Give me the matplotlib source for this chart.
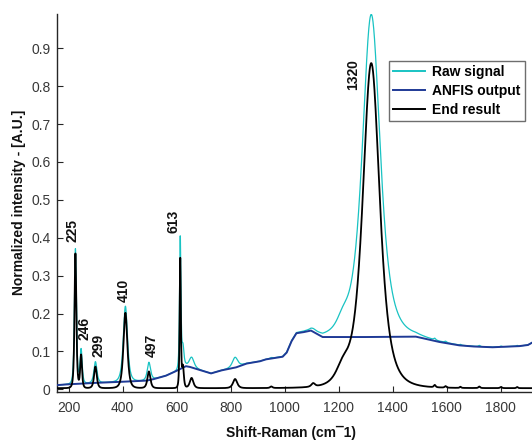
import numpy as np
import matplotlib
matplotlib.use("Agg")
import matplotlib.pyplot as plt

plt.rcParams['font.family'] = ['Liberation Sans', 'DejaVu Sans']

# ---- data -------------------------------------------------------------
# ANFIS baseline estimate (Raman shift in cm^-1, normalized intensity)
anfis_shift = [156, 193, 300, 400, 489, 515, 560, 594, 634, 649, 690, 727,
               766, 820, 859, 908, 930, 992, 1007, 1025, 1043, 1070, 1097,
               1140, 1300, 1485, 1572, 1646, 1700, 1769, 1868, 1900, 1915]
anfis_value = [0.011, 0.013, 0.017, 0.020, 0.023, 0.027, 0.036, 0.047, 0.061,
               0.059, 0.050, 0.042, 0.050, 0.058, 0.068, 0.074, 0.079, 0.086,
               0.097, 0.127, 0.148, 0.151, 0.155, 0.138, 0.138, 0.139, 0.125,
               0.116, 0.113, 0.111, 0.114, 0.117, 0.123]

# labelled Raman bands (cm^-1)
band_shift = [225, 246, 299, 410, 497, 613, 1320]
raw_band_height = [0.356, 0.090, 0.056, 0.199, 0.047, 0.345, 0.851]
raw_band_width = [6.5, 7, 10, 14, 11, 4.5, 60]
end_band_height = [0.355, 0.087, 0.057, 0.199, 0.044, 0.340, 0.857]
end_band_width = [6, 6, 9, 13, 10, 4, 57]

# weaker unlabelled bands
minor_shift = [623, 655, 816, 950, 1105, 1215, 1555, 1595, 1650, 1720, 1800, 1860]
raw_minor_height = [0.054, 0.027, 0.027, 0.002, 0.004, 0.030, 0.004, 0.003, 0.002, 0.003, 0.002, 0.002]
raw_minor_width = [7, 16, 18, 8, 15, 40, 6, 6, 5, 6, 6, 5]
end_minor_height = [0.055, 0.027, 0.024, 0.004, 0.009, 0.040, 0.006, 0.004, 0.003, 0.004, 0.003, 0.003]
end_minor_width = [6, 12, 14, 8, 12, 45, 6, 6, 5, 6, 6, 5]

end_floor = 0.003

xtick_values = [200, 400, 600, 800, 1000, 1200, 1400, 1600, 1800]
ytick_values = [0, 0.1, 0.2, 0.3, 0.4, 0.5, 0.6, 0.7, 0.8, 0.9]
ytick_labels = ['0', '0.1', '0.2', '0.3', '0.4', '0.5', '0.6', '0.7', '0.8', '0.9']

series_names = ['Raw signal', 'ANFIS output', 'End result']


# ---- spectra ----------------------------------------------------------
def band(x, c, h, w):
    return h / (1.0 + ((x - c) / w) ** 2) ** 2


shift = np.arange(156, 1915.5, 0.5)
baseline = np.interp(shift, anfis_shift, anfis_value)

raw = baseline.copy()
end = np.full_like(shift, end_floor)
for c, h, w in zip(band_shift + minor_shift,
                   raw_band_height + raw_minor_height,
                   raw_band_width + raw_minor_width):
    raw += band(shift, c, h, w)
for c, h, w in zip(band_shift + minor_shift,
                   end_band_height + end_minor_height,
                   end_band_width + end_minor_width):
    end += band(shift, c, h, w)

# ---- figure -----------------------------------------------------------
W, H = 532, 441
fig = plt.figure(figsize=(W / 100, H / 100), dpi=100)
ax = fig.add_axes([56.7 / W, 1 - 391.7 / H, (W - 56.7) / W, (391.7 - 14) / H])

ax.plot(shift, raw, color='#19c3c3', lw=0.9, label=series_names[0], zorder=2)
ax.plot(anfis_shift, anfis_value, color='#1f3a96', lw=1.4, label=series_names[1], zorder=3)
ax.plot(shift, end, color='black', lw=1.3, label=series_names[2], zorder=4)

ax.set_xlim(155.7, 1915)
ax.set_ylim(-0.0063, 0.9905)

ax.set_xticks(xtick_values)
ax.set_xticklabels([str(v) for v in xtick_values])
ax.set_yticks(ytick_values)
ax.set_yticklabels(ytick_labels)

for side in ('top', 'right'):
    ax.spines[side].set_visible(False)
for side in ('left', 'bottom'):
    ax.spines[side].set_linewidth(1.0)
    ax.spines[side].set_color('#262626')

ax.tick_params(direction='in', length=4, width=0.8, colors='#262626',
               labelsize=10, labelcolor='#383838')
ax.tick_params(axis='x', pad=6.5)
ax.tick_params(axis='y', pad=4.5)

ax.set_xlabel('Shift-Raman (cm\u00af1)', fontsize=10, fontweight='bold', color='#111111')
ax.xaxis.set_label_coords(0.4925, -0.11)
ax.xaxis.label.set_va('center')
ax.set_ylabel('Normalized intensity - [A.U.]', fontsize=10, fontweight='bold', color='#111111')
ax.yaxis.set_label_coords(-0.0793, 0.50)
ax.yaxis.label.set_va('center')

# band annotations: (text offset in pixels, baseline of text in data units)
label_place = {225: (-3.4, 0.389), 246: (3.6, 0.130), 299: (2.9, 0.0845),
               410: (-1.4, 0.231), 497: (2.4, 0.0845), 613: (-6.3, 0.4125),
               1320: (-18.6, 0.79)}
for v in band_shift:
    dx, yb = label_place[v]
    ax.annotate(str(v), xy=(v, yb), xytext=(dx, 0), textcoords='offset pixels',
                rotation=90, ha='center', va='bottom', fontsize=10,
                fontweight='bold', color='#111111')

leg = ax.legend(loc='upper left', bbox_to_anchor=(388.7 / W, 1 - 60.7 / H),
                bbox_transform=fig.transFigure, borderaxespad=0, frameon=True,
                fancybox=False, edgecolor='#6e6e6e', framealpha=1,
                handlelength=2.3, handletextpad=0.55, labelspacing=0.37,
                borderpad=0.3, prop=dict(weight='bold', size=10))
leg.get_frame().set_linewidth(1.0)
for line in leg.get_lines():
    line.set_linewidth(1.4)

fig.savefig('out.png', dpi=100)
